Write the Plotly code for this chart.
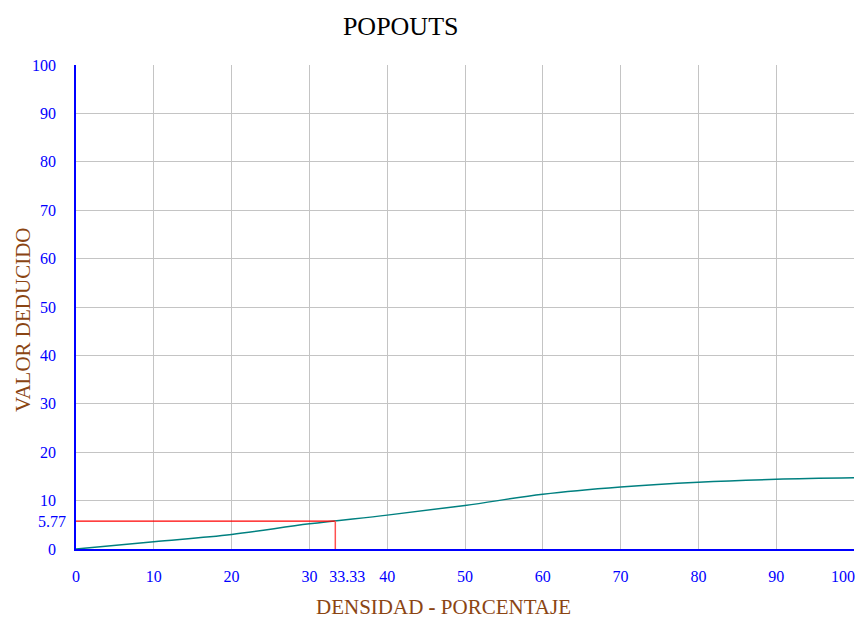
import plotly.graph_objects as go

# Data
density = [0, 10, 20, 30, 40, 50, 60, 70, 80, 90, 100]
deduct = [0, 1.5, 3.0, 5.2, 7.0, 9.0, 11.3, 12.8, 13.8, 14.4, 14.7]
x_mark = 33.33
y_mark = 5.77
grid_ticks = [0, 10, 20, 30, 40, 50, 60, 70, 80, 90, 100]
x_ticktext = ["0", "10", "20", "30", "40", "50", "60", "70", "80", "90", ""]
x_end_label = "100"
y_ticktext = ["0", "10", "20", "30", "40", "50", "60", "70", "80", "90", "100"]

FONT = "Liberation Serif, Times New Roman, serif"
BLUE = "#0000FF"
BROWN = "#8B4513"
GRID = "#c4c4c4"

fig = go.Figure()
fig.add_trace(go.Scatter(x=density, y=deduct, mode="lines",
                         line=dict(color="#008080", width=1.5, shape="spline"),
                         hoverinfo="skip", showlegend=False))
fig.add_trace(go.Scatter(x=[0, x_mark], y=[y_mark, y_mark], mode="lines",
                         line=dict(color="#FF0000", width=1.2),
                         xaxis="x2", yaxis="y2", showlegend=False))
fig.add_trace(go.Scatter(x=[x_mark, x_mark], y=[0, y_mark], mode="lines",
                         line=dict(color="#FF5050", width=1.5),
                         xaxis="x2", yaxis="y2", showlegend=False))
fig.add_trace(go.Scatter(x=[density[-1]], y=[deduct[-1]], mode="lines",
                         line=dict(color="#008080", width=1.5),
                         xaxis="x3", yaxis="y", hoverinfo="skip", showlegend=False))

axis_common = dict(range=[0, 100], fixedrange=True, automargin=False,
                   ticklabeloverflow="allow",
                   tickfont=dict(family=FONT, size=16, color=BLUE))

fig.update_layout(
    width=855, height=613,
    margin=dict(l=68, r=9, t=57, b=72),
    paper_bgcolor="white", plot_bgcolor="white",
    title=dict(text="POPOUTS", x=0.4593, xanchor="center", y=0.97, yanchor="middle",
               font=dict(family=FONT, size=26, color="black")),
    xaxis=dict(**axis_common, tickvals=grid_ticks, ticktext=x_ticktext,
               showgrid=True, gridcolor=GRID, gridwidth=1,
               zeroline=False, showline=True, linecolor=BLUE, linewidth=1.5,
               ticks="", ticklabelstandoff=12),
    yaxis=dict(**axis_common, tickvals=grid_ticks, ticktext=y_ticktext,
               showgrid=True, gridcolor=GRID, gridwidth=1,
               zeroline=False, showline=True, linecolor=BLUE, linewidth=1.5,
               ticks="", ticklabelstandoff=15),
    xaxis2=dict(**axis_common, overlaying="x", anchor="y", side="bottom",
                tickvals=[x_mark], ticktext=[f"{x_mark:.2f}"], showgrid=False, zeroline=False,
                showline=False, ticks="", ticklabelstandoff=16, ticklabelshift=12),
    xaxis3=dict(**axis_common, overlaying="x", anchor="y", side="bottom",
                tickvals=[density[-1]], ticktext=[x_end_label], showgrid=False, zeroline=False,
                showline=False, ticks="", ticklabelstandoff=16, ticklabelshift=-11),
    yaxis2=dict(**axis_common, overlaying="y", anchor="x", side="left",
                tickvals=[y_mark], ticktext=[f"{y_mark:.2f}"], showgrid=False, zeroline=False,
                showline=False, ticks="", ticklabelstandoff=9),
    annotations=[
        dict(text="DENSIDAD <b>-</b> PORCENTAJE", xref="paper", yref="paper",
             x=0.473, y=0, xanchor="center", yanchor="middle", yshift=-58,
             showarrow=False, font=dict(family=FONT, size=21, color=BROWN)),
        dict(text="VALOR DEDUCIDO", xref="paper", yref="paper", textangle=-90,
             x=0, y=0.473, xanchor="center", yanchor="middle", xshift=-53,
             showarrow=False, font=dict(family=FONT, size=21, color=BROWN)),
    ],
)

fig.write_html("out.html")
